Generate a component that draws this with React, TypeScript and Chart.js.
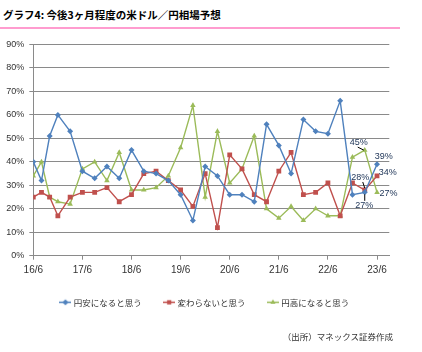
import React, { useEffect, useRef } from 'react';
import { Chart, registerables } from 'chart.js';

Chart.register(...registerables);

// Survey dates (year/month)
const surveyDates = [
  '2016/06', '2016/08', '2016/10', '2016/12', '2017/03', '2017/06', '2017/09', '2017/12',
  '2018/03', '2018/06', '2018/09', '2018/12', '2019/03', '2019/06', '2019/09', '2019/12',
  '2020/03', '2020/06', '2020/09', '2020/12', '2021/03', '2021/06', '2021/09', '2021/12',
  '2022/03', '2022/06', '2022/09', '2022/12', '2023/03', '2023/06',
];

// 円安になると思う (%)
const yenWeaker = [40, 32, 51, 60, 53, 36, 33, 38, 33, 45, 36, 35, 32, 26, 15, 38, 34, 26, 26, 23, 56, 47, 35, 58, 53, 52, 66, 26, 27, 39];
// 変わらないと思う (%)
const unchanged = [25, 27, 25, 17, 25, 27, 27, 29, 23, 26, 35, 36, 32, 28, 21, 35, 12, 43, 37, 26, 23, 36, 44, 26, 27, 31, 17, 31, 28, 34];
// 円高になると思う (%)
const yenStronger = [34, 40, 25, 23, 22, 37, 40, 32, 44, 28, 28, 29, 34, 46, 64, 25, 53, 31, 37, 51, 20, 16, 21, 15, 20, 17, 17, 42, 45, 27];

const seriesNames = ['円安になると思う', '変わらないと思う', '円高になると思う'];
const xTickLabels = ['16/6', '17/6', '18/6', '19/6', '20/6', '21/6', '22/6', '23/6'];
const yTickValues = [0, 10, 20, 30, 40, 50, 60, 70, 80, 90];

const titleText = 'グラフ4: 今後3ヶ月程度の米ドル／円相場予想';
const sourceText = '（出所）マネックス証券作成';

// which points carry value labels: [seriesIndex, pointIndex]
const labelledPoints: [number, number][] = [[2, 28], [1, 28], [0, 28], [0, 29], [1, 29], [2, 29]];

const allSeries = [yenWeaker, unchanged, yenStronger];

// ---- styling ----
const COLORS = ['#4F81BD', '#C0504D', '#9BBB59'];
const STYLES = ['rectRot', 'rect', 'triangle'];
const RADII = [3, 3.4, 3.2];
const GRID = '#8a8a8a';
const JP = '"Noto Sans CJK JP", "Noto Sans", sans-serif';
const NUM = '"Liberation Sans", Arial, sans-serif';

// label offsets relative to the point (placement only)
const labelPlacement: Record<string, { dx: number; dy: number; leader?: [number, number, number, number] }> = {
  '2-28': { dx: -6, dy: -8, leader: [-7, -3, -1, 0] },
  '1-28': { dx: -4.5, dy: -12.8, leader: [-2, -8, 0, -2] },
  '0-28': { dx: -0.5, dy: 13.6, leader: [0, 2, 0, 8.5] },
  '0-29': { dx: 6.7, dy: -8 },
  '1-29': { dx: 10.7, dy: -3.3 },
  '2-29': { dx: 11.5, dy: 0.9 },
};

function monthsFromStart(d: string) {
  const [y, m] = d.split('/').map(Number);
  return (y - 2016) * 12 + (m - 6);
}

function drawMarker(ctx: CanvasRenderingContext2D, style: string, x: number, y: number, r: number) {
  ctx.beginPath();
  if (style === 'rectRot') {
    ctx.moveTo(x, y - r); ctx.lineTo(x + r, y); ctx.lineTo(x, y + r); ctx.lineTo(x - r, y);
  } else if (style === 'rect') {
    const s = r * Math.SQRT1_2;
    ctx.rect(x - s, y - s, 2 * s, 2 * s);
  } else {
    ctx.moveTo(x, y - r);
    ctx.lineTo(x + r * 0.866, y + r * 0.5);
    ctx.lineTo(x - r * 0.866, y + r * 0.5);
  }
  ctx.closePath();
  ctx.fill();
}

function makeLegendIcon(i: number) {
  const c = document.createElement('canvas');
  c.width = 12; c.height = 9;
  const ctx = c.getContext('2d')!;
  ctx.strokeStyle = COLORS[i];
  ctx.fillStyle = COLORS[i];
  ctx.lineWidth = 1.5;
  ctx.beginPath(); ctx.moveTo(0, 4.5); ctx.lineTo(12, 4.5); ctx.stroke();
  drawMarker(ctx, STYLES[i], 6, 4.5, 3);
  return c;
}

const labelPlugin = {
  id: 'pointValueLabels',
  afterDatasetsDraw(chart: any) {
    const ctx = chart.ctx as CanvasRenderingContext2D;
    ctx.save();
    ctx.font = `9px ${NUM}`;
    ctx.textAlign = 'center';
    ctx.textBaseline = 'middle';
    for (const [s, i] of labelledPoints) {
      const el = chart.getDatasetMeta(s).data[i];
      if (!el) continue;
      const p = labelPlacement[`${s}-${i}`];
      if (p.leader) {
        ctx.strokeStyle = '#000';
        ctx.lineWidth = 1;
        ctx.beginPath();
        ctx.moveTo(el.x + p.leader[0], el.y + p.leader[1]);
        ctx.lineTo(el.x + p.leader[2], el.y + p.leader[3]);
        ctx.stroke();
      }
      ctx.fillStyle = '#22385a';
      ctx.fillText(`${allSeries[s][i]}%`, el.x + p.dx, el.y + p.dy);
    }
    ctx.restore();
  },
};

export default function App() {
  const ref = useRef<HTMLCanvasElement>(null);

  useEffect(() => {
    if (!ref.current) return;
    const icons = [0, 1, 2].map(makeLegendIcon);
    const datasets = allSeries.map((vals, s) => ({
      label: seriesNames[s],
      data: surveyDates.map((d, i) => ({ x: monthsFromStart(d), y: vals[i] })),
      borderColor: COLORS[s],
      backgroundColor: COLORS[s],
      borderWidth: 1.4,
      pointStyle: STYLES[s] as any,
      pointRadius: RADII[s],
      pointBorderWidth: 0,
      pointBackgroundColor: COLORS[s],
      tension: 0,
      fill: false,
    }));

    const chart = new Chart(ref.current, {
      type: 'line',
      data: { datasets },
      plugins: [labelPlugin],
      options: {
        animation: false,
        responsive: false,
        maintainAspectRatio: false,
        events: [],
        layout: { padding: { left: 21.3, right: 32.7, top: 44.5, bottom: 35.45 } },
        plugins: {
          tooltip: { enabled: false },
          title: { display: false },
          legend: {
            position: 'bottom',
            labels: {
              usePointStyle: true,
              pointStyleWidth: 8,
              padding: 23.5,
              color: '#333',
              font: { family: JP, size: 8.5 },
              generateLabels: (c: any) => {
                const items = Chart.defaults.plugins.legend.labels.generateLabels(c);
                items.forEach((it: any, k: number) => { it.pointStyle = icons[k]; });
                return items;
              },
            },
          },
        },
        scales: {
          x: {
            type: 'linear',
            min: 0,
            max: 87,
            afterBuildTicks: (s: any) => {
              s.ticks = xTickLabels.map((_, i) => ({ value: i * 12 }));
            },
            afterFit: (s: any) => { s.height = 18.85; },
            ticks: {
              autoSkip: false,
              maxRotation: 0,
              padding: 4.3,
              color: '#333',
              font: { family: NUM, size: 10 },
              callback: (v: any) => xTickLabels[Math.round(Number(v) / 12)] ?? '',
            },
            grid: { drawOnChartArea: false, drawTicks: true, tickLength: 4, color: GRID, lineWidth: 1 },
            border: { color: GRID, width: 1 },
          },
          y: {
            min: 0,
            max: 90,
            afterBuildTicks: (s: any) => {
              s.ticks = yTickValues.map((v) => ({ value: v }));
            },
            afterFit: (s: any) => {
              s.width = 12;
              // let the tick labels extend into the left padding instead of being clipped
              s._computeLabelArea = () => undefined;
            },
            ticks: {
              padding: 5,
              color: '#333',
              font: { family: NUM, size: 9 },
              callback: (v: any) => `${v}%`,
            },
            grid: { color: GRID, tickLength: 4, lineWidth: 1 },
            border: { color: GRID, width: 1 },
          },
        },
      },
    });
    return () => chart.destroy();
  }, []);

  return (
    <div style={{ position: 'absolute', left: 0, top: 0, width: 422, height: 352, background: '#fff', overflow: 'hidden' }}>
      <div style={{ position: 'absolute', left: 3, top: 7, fontFamily: JP, fontWeight: 700, fontSize: 10.5, lineHeight: '16px', color: '#000', whiteSpace: 'nowrap' }}>
        {titleText}
      </div>
      <div style={{ position: 'absolute', left: 0, top: 27, width: 400, height: 2, background: '#ff9ccf' }} />
      <canvas ref={ref} width={422} height={352} style={{ position: 'absolute', left: 0, top: 0, width: 422, height: 352 }} />
      <div style={{ position: 'absolute', right: 29, top: 329.7, fontFamily: JP, fontSize: 8.5, lineHeight: '12px', color: '#333', whiteSpace: 'nowrap' }}>
        {sourceText}
      </div>
    </div>
  );
}
